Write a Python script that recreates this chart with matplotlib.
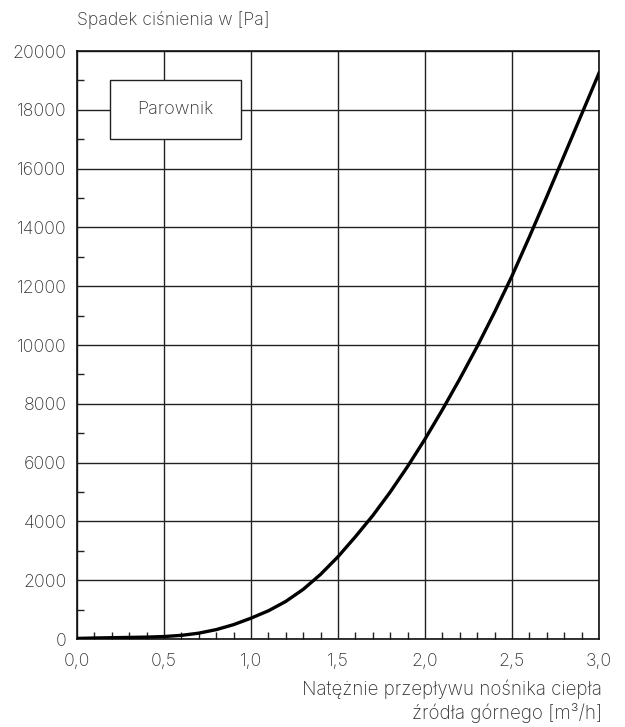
import numpy as np
import matplotlib.pyplot as plt
from matplotlib.patches import Rectangle
from matplotlib.ticker import MultipleLocator

# flow rate [m3/h] and pressure drop [Pa]
flow = [0.0, 0.1, 0.2, 0.3, 0.4, 0.5, 0.6, 0.7, 0.8, 0.9, 1.0,
        1.1, 1.2, 1.3, 1.4, 1.5, 1.6, 1.7, 1.8, 1.9, 2.0,
        2.1, 2.2, 2.3, 2.4, 2.5, 2.6, 2.7, 2.8, 2.9, 3.0]
dp = [20, 35, 45, 55, 65, 85, 125, 200, 320, 490, 710,
      960, 1280, 1690, 2200, 2800, 3480, 4200, 5000, 5870, 6800,
      7800, 8850, 9950, 11120, 12350, 13680, 15050, 16450, 17850, 19250]

x_ticks = [0.0, 0.5, 1.0, 1.5, 2.0, 2.5, 3.0]
x_labels = ['0,0', '0,5', '1,0', '1,5', '2,0', '2,5', '3,0']
y_ticks = [0, 2000, 4000, 6000, 8000, 10000, 12000, 14000, 16000, 18000, 20000]

plt.rcParams['font.family'] = ['Inter', 'DejaVu Sans']
plt.rcParams['font.weight'] = 'light'
txt = '#333333'

fig = plt.figure(figsize=(6.25, 7.27), dpi=100)
ax = fig.add_axes([0.1232, 0.1210, 0.8352, 0.8088])

ax.set_xlim(0, 3.0)
ax.set_ylim(0, 20000)
ax.set_xticks(x_ticks)
ax.set_xticklabels(x_labels)
ax.set_yticks(y_ticks)
ax.xaxis.set_minor_locator(MultipleLocator(0.1))
ax.yaxis.set_minor_locator(MultipleLocator(1000))
ax.tick_params(which='both', direction='in', colors='#222222', labelcolor=txt, labelsize=12.8)
ax.tick_params(axis='x', which='major', length=0, pad=10)
ax.tick_params(axis='y', which='major', length=0, pad=7.5)
ax.tick_params(which='minor', length=5, width=1)
ax.grid(True, which='major', color='#222222', lw=1)
for s in ax.spines.values():
    s.set_color('#111111')
    s.set_linewidth(1.2)

ax.plot(flow, dp, color='black', lw=2.4, zorder=3, solid_joinstyle='round')

# label box
ax.add_patch(Rectangle((0.19, 17000), 0.75, 2000, facecolor='white', edgecolor='#222222', lw=1, zorder=4))
ax.text(0.565, 18000, 'Parownik', ha='center', va='center', fontsize=13, color=txt, zorder=5)

fig.text(77/625, 1 - 20/727, 'Spadek ciśnienia w [Pa]', ha='left', va='center', fontsize=12.7, color=txt)
fig.text(602/625, 1 - 689/727, 'Natężnie przepływu nośnika ciepła', ha='right', va='center', fontsize=13.5, color=txt)
fig.text(602/625, 1 - 713/727, 'źródła górnego [m³/h]', ha='right', va='center', fontsize=13.5, color=txt)

fig.savefig('out.png', dpi=100, facecolor='white')
